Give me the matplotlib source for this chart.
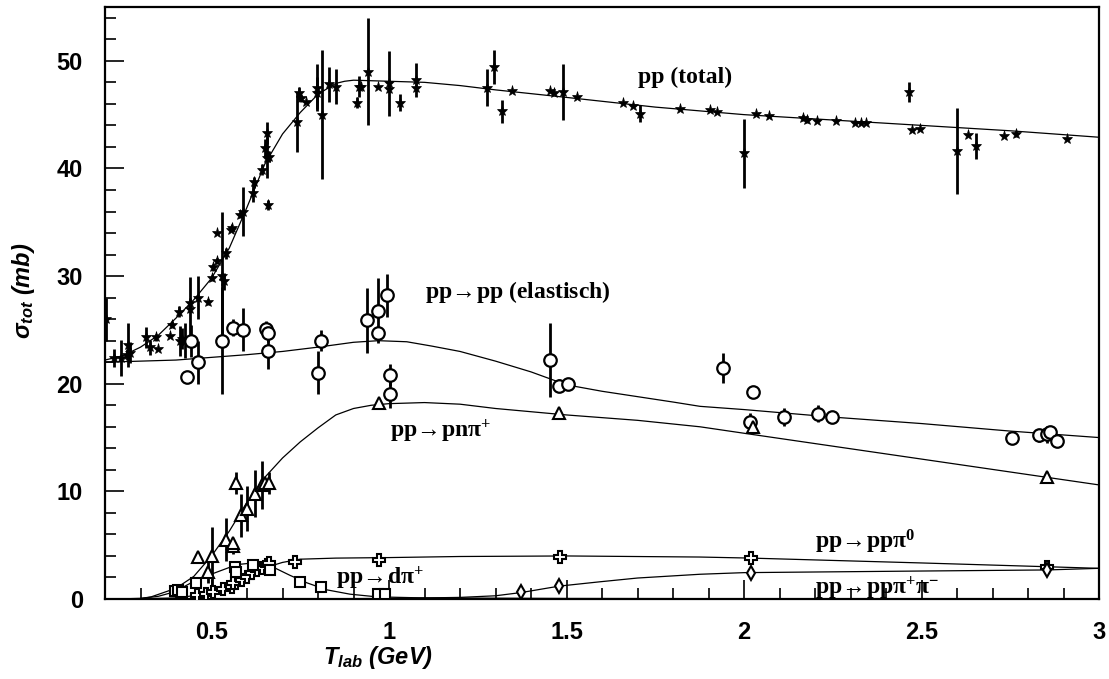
import matplotlib
matplotlib.use('Agg')
import matplotlib.pyplot as plt
from matplotlib.ticker import MultipleLocator

plt.rcParams['mathtext.fontset'] = 'custom'
plt.rcParams['mathtext.rm'] = 'Liberation Serif:bold'
plt.rcParams['mathtext.it'] = 'Liberation Sans:bold:italic'
plt.rcParams['mathtext.default'] = 'rm'
plt.rcParams['mathtext.fallback'] = 'stix'

# pp total (Sterne)
tot_x = [0.203, 0.225, 0.245, 0.262, 0.265, 0.27, 0.315, 0.327, 0.343, 0.35, 0.383, 0.388,
         0.408, 0.41, 0.418, 0.425, 0.44, 0.44, 0.462, 0.49, 0.50, 0.504, 0.515, 0.515,
         0.53, 0.535, 0.541, 0.555, 0.558, 0.58, 0.59, 0.617, 0.62, 0.642, 0.66, 0.65,
         0.657, 0.657, 0.662, 0.741, 0.747, 0.752, 0.766, 0.797, 0.797, 0.811, 0.831, 0.851,
         0.91, 0.915, 0.92, 0.941, 0.969, 1.0, 1.0, 1.031, 1.076, 1.076, 1.276, 1.296,
         1.318, 1.346, 1.454, 1.465, 1.49, 1.53, 1.659, 1.687, 1.707, 1.82, 1.904, 1.924,
         2.0, 2.034, 2.07, 2.166, 2.178, 2.206, 2.26, 2.313, 2.33, 2.345, 2.465, 2.474,
         2.496, 2.6, 2.631, 2.653, 2.732, 2.766, 2.91]
tot_y = [26.0, 22.4, 22.4, 22.7, 23.6, 22.9, 24.3, 23.4, 24.3, 23.2, 24.4, 25.5,
         26.7, 24.0, 24.2, 24.0, 27.5, 26.9, 28.0, 27.6, 29.8, 30.8, 31.4, 34.0,
         30.0, 29.5, 32.1, 34.3, 34.5, 35.7, 36.0, 37.7, 38.7, 39.9, 36.6, 41.9,
         43.3, 41.0, 41.1, 44.3, 47.0, 46.5, 46.2, 47.5, 47.0, 45.0, 47.8, 47.6,
         46.1, 47.6, 47.6, 49.0, 47.6, 47.9, 47.4, 46.1, 48.2, 47.5, 47.5, 49.4,
         45.3, 47.2, 47.2, 47.0, 47.1, 46.6, 46.1, 45.8, 45.1, 45.5, 45.4, 45.2,
         41.4, 45.1, 44.9, 44.7, 44.5, 44.4, 44.4, 44.2, 44.2, 44.2, 47.1, 43.6,
         43.7, 41.6, 43.1, 42.1, 43.0, 43.2, 42.7]
tot_err = [2.0, 0.8, 1.7, 0.5, 2.0, 1.0, 1.0, 0.7, 0.3, 0.0, 0.0, 0.3,
           0.5, 1.4, 1.0, 1.6, 0.5, 3.0, 2.0, 0.3, 0.3, 0.3, 0.3, 0.0,
           6.0, 0.8, 0.5, 0.0, 0.0, 0.3, 2.3, 0.8, 0.5, 0.5, 0.5, 0.8,
           1.0, 1.9, 0.5, 2.8, 0.6, 0.3, 0.0, 2.2, 1.5, 6.0, 1.6, 1.6,
           0.5, 1.0, 0.0, 5.0, 0.0, 3.0, 0.0, 0.8, 1.6, 0.0, 1.7, 1.6,
           1.1, 0.0, 0.0, 0.0, 2.6, 0.0, 0.0, 0.0, 0.8, 0.0, 0.0, 0.0,
           3.2, 0.0, 0.0, 0.3, 0.3, 0.0, 0.0, 0.0, 0.0, 0.0, 0.9, 0.0,
           0.0, 4.0, 0.0, 1.2, 0.0, 0.3, 0.0]

# pp -> pp elastisch (Kreise)
el_x = [0.431, 0.442, 0.462, 0.53, 0.56, 0.59, 0.653, 0.66, 0.659, 0.80, 0.808, 0.938,
        0.969, 0.969, 0.994, 1.003, 1.003, 1.454, 1.479, 1.504, 1.941, 2.025, 2.017, 2.113,
        2.208, 2.248, 2.755, 2.831, 2.853, 2.862, 2.882]
el_y = [20.6, 24.0, 22.0, 24.0, 25.2, 25.0, 25.1, 24.7, 23.0, 21.0, 24.0, 25.9,
        26.8, 24.7, 28.2, 20.8, 19.0, 22.2, 19.8, 20.0, 21.5, 19.2, 16.4, 16.9,
        17.2, 16.9, 15.0, 15.2, 15.3, 15.5, 14.7]
el_err = [0.0, 1.5, 2.0, 5.0, 0.8, 2.0, 0.7, 0.8, 1.6, 2.0, 1.0, 3.0,
          3.0, 0.7, 2.0, 1.0, 1.3, 3.4, 0.6, 0.0, 1.4, 0.0, 0.9, 0.8,
          0.8, 0.0, 0.0, 0.6, 0.8, 0.0, 0.6]

# pp -> pn pi+ (Dreiecke)
pn_x = [0.462, 0.501, 0.49, 0.541, 0.56, 0.56, 0.569, 0.583, 0.60, 0.623, 0.642, 0.651,
        0.662, 0.972, 1.479, 2.025, 2.853]
pn_y = [3.9, 4.0, 2.5, 5.5, 4.9, 5.2, 10.8, 7.8, 8.4, 9.8, 10.6, 10.8,
        10.8, 18.2, 17.3, 16.0, 11.3]
pn_err = [0.0, 2.7, 1.0, 2.0, 0.7, 0.0, 1.0, 2.0, 2.1, 2.2, 2.2, 0.0,
          1.0, 0.4, 0.4, 0.5, 0.5]

# pp -> pp pi0 (Kreuze)
pi0_x = [0.459, 0.485, 0.504, 0.532, 0.557, 0.56, 0.586, 0.60, 0.614, 0.628, 0.642, 0.656,
         0.662, 0.735, 0.972, 1.482, 2.02, 2.853]
pi0_y = [0.4, 0.5, 0.65, 0.9, 1.1, 1.5, 1.75, 2.05, 2.4, 2.7, 2.9, 3.2,
         3.3, 3.4, 3.6, 3.9, 3.8, 3.0]

# pp -> d pi+ (Quadrate)
dpi_x = [0.397, 0.405, 0.417, 0.456, 0.566, 0.569, 0.617, 0.665, 0.749, 0.808, 0.969, 0.99]
dpi_y = [0.75, 0.8, 0.65, 1.5, 3.0, 2.5, 3.2, 2.7, 1.6, 1.1, 0.5, 0.5]

# pp -> pp pi+ pi- (Rauten)
pipi_x = [1.372, 1.48, 2.02, 2.853]
pipi_y = [0.65, 1.2, 2.4, 2.7]

# Kurven
tot_cx = [0.2, 0.25, 0.3, 0.35, 0.4, 0.45, 0.5, 0.55, 0.6, 0.65, 0.7, 0.75, 0.8, 0.85,
          0.875, 0.9, 1.0, 1.1, 1.2, 1.3, 1.5, 1.75, 2.0, 2.25, 2.5, 2.75, 3.0]
tot_cy = [22.2, 22.6, 23.4, 24.5, 26.1, 27.8, 29.8, 32.6, 36.4, 40.4, 43.2, 45.2, 46.9, 47.9,
          48.1, 48.2, 48.1, 48.0, 47.7, 47.3, 46.6, 45.7, 45.0, 44.5, 44.0, 43.5, 42.9]
el_cx = [0.2, 0.4, 0.6, 0.7, 0.8, 0.9, 0.97, 1.05, 1.12, 1.2, 1.3, 1.4, 1.5, 1.6, 1.7,
         1.8, 1.876, 2.0, 2.25, 2.5, 2.75, 3.0]
el_cy = [22.0, 22.2, 22.7, 23.0, 23.4, 23.85, 24.0, 23.9, 23.5, 23.0, 22.1, 21.1, 19.9,
         19.3, 18.8, 18.3, 17.9, 17.6, 16.9, 16.3, 15.6, 15.0]
pn_cx = [0.2, 0.3, 0.33, 0.4, 0.45, 0.5, 0.55, 0.6, 0.65, 0.7, 0.75, 0.8, 0.85, 0.9, 0.95,
         1.0, 1.1, 1.2, 1.3, 1.5, 1.7, 1.876, 2.0, 2.25, 2.5, 2.75, 3.0]
pn_cy = [0.0, 0.05, 0.2, 1.0, 2.1, 4.0, 6.3, 9.0, 11.3, 13.1, 14.6, 15.9, 17.1, 17.7, 18.0,
         18.15, 18.25, 18.1, 17.7, 17.1, 16.6, 16.0, 15.4, 14.2, 13.0, 11.8, 10.6]
pi0_cx = [0.2, 0.3, 0.4, 0.459, 0.5, 0.55, 0.6, 0.65, 0.7, 0.75, 0.85, 1.0, 1.2, 1.5,
          1.876, 2.02, 2.5, 2.853, 3.0]
pi0_cy = [0.0, 0.02, 0.1, 0.35, 0.7, 1.3, 2.1, 2.9, 3.4, 3.7, 3.8, 3.85, 3.95, 4.0,
          3.9, 3.8, 3.35, 3.0, 2.85]
dpi_cx = [0.2, 0.3, 0.35, 0.383, 0.42, 0.459, 0.515, 0.572, 0.617, 0.665, 0.721, 0.769,
          0.825, 0.89, 0.966, 1.1, 1.5, 2.0, 3.0]
dpi_cy = [0.0, 0.05, 0.25, 0.55, 1.1, 1.8, 2.5, 3.2, 3.35, 3.1, 2.2, 1.5,
          0.85, 0.45, 0.2, 0.1, 0.05, 0.03, 0.02]
pipi_cx = [0.6, 1.0, 1.2, 1.3, 1.372, 1.48, 1.594, 1.7, 1.876, 2.0, 2.5, 2.853, 3.0]
pipi_cy = [0.0, 0.05, 0.15, 0.3, 0.6, 1.2, 1.6, 1.95, 2.3, 2.45, 2.6, 2.7, 2.85]

fig = plt.figure(figsize=(11.09, 6.79), dpi=100)
ax = fig.add_axes([0.0947, 0.1178, 0.8963, 0.8719])

for cx, cy in [(tot_cx, tot_cy), (el_cx, el_cy), (pn_cx, pn_cy),
               (pi0_cx, pi0_cy), (dpi_cx, dpi_cy), (pipi_cx, pipi_cy)]:
    ax.plot(cx, cy, color='black', lw=0.9, zorder=2)

ax.errorbar(tot_x, tot_y, yerr=tot_err, fmt='*', ms=8, mfc='black', mec='black', mew=0.5,
            ecolor='black', elinewidth=2, capsize=0, zorder=3)
ax.errorbar(el_x, el_y, yerr=el_err, fmt='o', ms=9, mfc='white', mec='black', mew=1.6,
            ecolor='black', elinewidth=2, capsize=0, zorder=3)
ax.errorbar(pn_x, pn_y, yerr=pn_err, fmt='^', ms=8, mfc='white', mec='black', mew=1.5,
            ecolor='black', elinewidth=2, capsize=0, zorder=3)
ax.plot(pi0_x, pi0_y, 'P', ms=8, mfc='white', mec='black', mew=1.5, zorder=3)
ax.plot(dpi_x, dpi_y, 's', ms=7, mfc='white', mec='black', mew=1.5, zorder=3)
ax.plot(pipi_x, pipi_y, 'd', ms=7, mfc='white', mec='black', mew=1.5, zorder=3)

# Beschriftungen der Kanaele
lab = dict(family=['Liberation Serif', 'DejaVu Serif'], fontweight='bold', fontsize=17,
           ha='left', va='center')
arr = r'$\!{\rightarrow}\!$'
ax.text(1.70, 48.5, 'pp (total)', **lab)
ax.text(1.10, 28.5, 'pp' + arr + 'pp (elastisch)', **lab)
ax.text(1.003, 15.6, 'pp' + arr + r'pn$\pi^{+}$', **lab)
ax.text(2.20, 5.3, 'pp' + arr + r'pp$\pi^{0}$', **lab)
ax.text(2.20, 1.0, 'pp' + arr + r'pp$\pi^{+}\pi^{-}$', **lab)
ax.text(0.851, 1.9, 'pp' + arr + r'd$\pi^{+}$', **lab)

ax.set_xlim(0.2, 3.0)
ax.set_ylim(0, 55)
ax.xaxis.set_major_locator(MultipleLocator(0.5))
ax.xaxis.set_minor_locator(MultipleLocator(0.1))
ax.yaxis.set_major_locator(MultipleLocator(10))
ax.yaxis.set_minor_locator(MultipleLocator(2))
ax.tick_params(which='both', direction='in', top=False, right=False, width=1.2)
ax.tick_params(which='major', length=14, labelsize=17, pad=16)
ax.tick_params(which='minor', length=8)
for lbl in ax.get_xticklabels() + ax.get_yticklabels():
    lbl.set_family('Liberation Sans')
    lbl.set_fontweight('bold')
ax.xaxis.set_major_formatter(plt.FuncFormatter(lambda v, p: '%g' % v))
for s in ax.spines.values():
    s.set_linewidth(1.6)

ax.set_xlabel(r'T$_{\mathit{lab}}$ (GeV)', family='Liberation Sans', fontweight='bold',
              style='italic', fontsize=17, x=0.275, labelpad=0)
ax.set_ylabel(r'σ$_{\mathit{tot}}$ (mb)', family='Liberation Sans', fontweight='bold',
              style='italic', fontsize=17, y=0.52, labelpad=14)

plt.savefig('out.png', dpi=100)
